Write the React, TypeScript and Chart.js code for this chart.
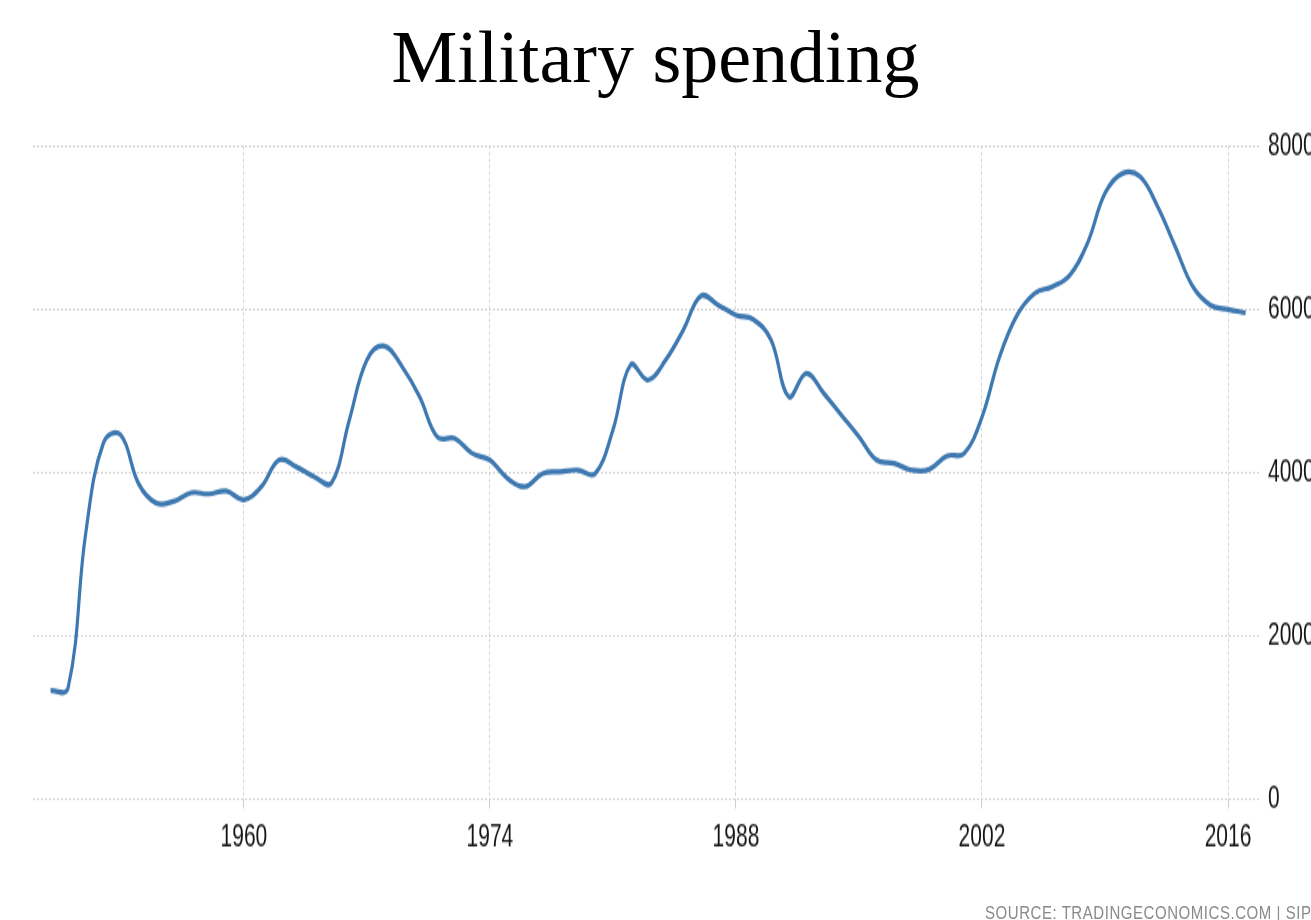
import React, { useEffect, useRef } from "react";
import { Chart, registerables } from "chart.js";

Chart.register(...registerables);

const chartTitle = "Military spending";
const sourceText = "SOURCE: TRADINGECONOMICS.COM | SIPRI";

// US military spending, USD million, one value per year starting 1949
const firstYear = 1949;
const spending = [
  133000, 137000, 326000, 436000, 446000, 387000, 363000, 365000, 375500, 374000,
  377500, 367000, 383000, 415500, 407000, 395000, 388000, 464500, 538000, 555000,
  530000, 493000, 444000, 442000, 423700, 415500, 393000, 383000, 399000, 401200,
  403300, 399300, 452300, 531800, 513500, 537900, 574600, 616300, 605300, 593000,
  587500, 562400, 493000, 521700, 497200, 470600, 444100, 415500, 411500, 403300,
  404100, 420400, 424000, 468000, 542000, 593000, 619600, 627700, 642000, 680800,
  742000, 766500, 762300, 725600, 676600, 627700, 605300, 600000, 595800,
];

const xTickYears = [1960, 1974, 1988, 2002, 2016];
const yTickValues = [0, 200000, 400000, 600000, 800000];

const SCALE_Y = 1.6;
const CANVAS_W = 1400;
const CANVAS_H = 575;
const AREA_TOP = 146 / SCALE_Y;
const AREA_BOTTOM = 799.5 / SCALE_Y;
const AREA_LEFT = 33;
const AREA_RIGHT = 1260;
const X_AXIS_H = 45;

const tickFont = { family: "'Liberation Sans', Arimo, Arial, sans-serif", size: 21 };

export default function App() {
  const canvasRef = useRef<HTMLCanvasElement | null>(null);

  useEffect(() => {
    const canvas = canvasRef.current;
    if (!canvas) return;
    const points = spending.map((v, i) => ({ x: firstYear + i, y: v }));
    const chart = new Chart(canvas, {
      type: "line",
      data: {
        datasets: [
          {
            data: points,
            borderColor: "#3d78b0",
            borderWidth: 3.2,
            tension: 0.4,
            pointRadius: 0,
            fill: false,
          },
        ],
      },
      options: {
        animation: false,
        responsive: false,
        devicePixelRatio: 1,
        events: [],
        layout: {
          padding: {
            left: AREA_LEFT,
            top: AREA_TOP,
            right: 0,
            bottom: CANVAS_H - AREA_BOTTOM - X_AXIS_H,
          },
        },
        plugins: {
          legend: { display: false },
          tooltip: { enabled: false },
          title: { display: false },
        },
        scales: {
          x: {
            type: "linear",
            min: 1948,
            max: 2017.82,
            afterBuildTicks: (s: any) => {
              s.ticks = xTickYears.map((v) => ({ value: v }));
            },
            afterFit: (s: any) => {
              s.height = X_AXIS_H;
            },
            grid: {
              color: "#cfcfcf",
              lineWidth: 1,
              drawTicks: true,
              tickLength: 5.6,
            },
            border: { display: false, dash: [2, 2] },
            ticks: {
              autoSkip: false,
              maxRotation: 0,
              minRotation: 0,
              padding: 5.5,
              color: "#151515",
              font: tickFont,
              callback: (v: any) => String(v),
            },
          },
          y: {
            position: "right",
            min: 0,
            max: 800000,
            afterBuildTicks: (s: any) => {
              s.ticks = yTickValues.map((v) => ({ value: v }));
            },
            afterFit: (s: any) => {
              s.width = CANVAS_W - AREA_RIGHT;
            },
            grid: {
              color: "#cfcfcf",
              lineWidth: 1,
              drawTicks: false,
            },
            border: { display: false, dash: [2, 2] },
            ticks: {
              padding: 8,
              color: "#151515",
              font: tickFont,
              callback: (v: any) => String(v),
            },
          },
        },
      },
    } as any);
    return () => chart.destroy();
  }, []);

  return (
    <div
      style={{
        position: "absolute",
        left: 0,
        top: 0,
        width: 1311,
        height: 920,
        overflow: "hidden",
        background: "#ffffff",
      }}
    >
      <div
        style={{
          position: "absolute",
          left: 0,
          top: 20,
          width: 1311,
          textAlign: "center",
          fontFamily: "'Liberation Serif', 'Times New Roman', serif",
          fontSize: 74,
          lineHeight: "74px",
          color: "#000",
          whiteSpace: "nowrap",
        }}
      >
        {chartTitle}
      </div>
      <canvas
        ref={canvasRef}
        width={CANVAS_W}
        height={CANVAS_H}
        style={{
          position: "absolute",
          left: 0,
          top: 0,
          width: CANVAS_W,
          height: CANVAS_H,
          transform: `scaleY(${SCALE_Y})`,
          transformOrigin: "0 0",
          display: "block",
        }}
      />
      <div
        style={{
          position: "absolute",
          left: 985,
          top: 902.7,
          fontFamily: "'Liberation Sans', Arial, sans-serif",
          fontSize: 15,
          lineHeight: "15px",
          letterSpacing: "0.55px",
          color: "#8a8a8a",
          whiteSpace: "nowrap",
          transform: "scaleY(1.2)",
          transformOrigin: "0 0",
        }}
      >
        {sourceText}
      </div>
    </div>
  );
}
